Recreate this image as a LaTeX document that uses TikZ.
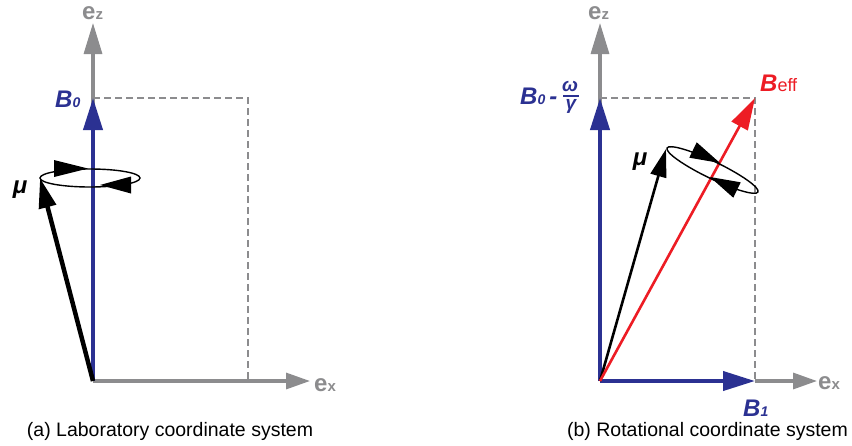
\documentclass[tikz,border=0pt]{standalone}
\usepackage{fontspec}
\setmainfont{Liberation Sans}
\usetikzlibrary{arrows.meta}
\definecolor{bblue}{RGB}{43,49,146}
\definecolor{agray}{RGB}{140,140,142}
\definecolor{rred}{RGB}{237,28,36}
\begin{document}
\begin{tikzpicture}[x=1pt,y=-1pt,
  axisz/.style={draw=agray, line width=3.2pt, -{Triangle[length=31pt,width=18pt]}},
  axisx/.style={draw=agray, line width=3.2pt, -{Triangle[length=24pt,width=16pt]}},
  bvec/.style={draw=bblue, line width=4pt, -{Triangle[length=32pt,width=19pt]}},
  muthick/.style={draw=black, line width=4.5pt, -{Triangle[length=30pt,width=17pt]}},
  muthin/.style={draw=black, line width=2.6pt, -{Triangle[length=28pt,width=16pt]}},
  rvec/.style={draw=rred, line width=2.6pt, -{Triangle[length=32pt,width=18pt]}},
  dashline/.style={draw=agray, line width=2.8pt, dash pattern=on 7pt off 4pt},
  precess/.style={draw=black, line width=1.4pt},
  lbl/.style={inner sep=0pt, font=\fontsize{24}{24}\selectfont\bfseries\itshape},
  axlbl/.style={inner sep=0pt, text=agray, font=\fontsize{24}{24}\selectfont\bfseries},
  caption/.style={inner sep=0pt, anchor=base, font=\fontsize{19.5}{20}\selectfont}
]
\useasboundingbox (0,0) rectangle (852,445);
\fill[white] (0,0) rectangle (852,445);

% ---------- panel (a) ----------
\coordinate (O1) at (93,381);
\coordinate (Z1) at (93,23);
\coordinate (X1) at (310,381);
\coordinate (B01) at (93,98);
\coordinate (C1) at (248,98);
\coordinate (C1b) at (248,381);
\coordinate (M1) at (40,178);

\draw[dashline] (B01) -- (C1) -- (C1b);
\draw[axisz] (O1) -- (Z1);
\draw[axisx] (O1) -- (X1);
\draw[bvec] (O1) -- (B01);
\draw[muthick] (O1) -- (M1);
\draw[precess] (90,178) ellipse [x radius=50pt, y radius=9pt];
\fill (88,168.5) -- (54,160) -- (54,177) -- cycle;
\fill (100,185) -- (131,176.5) -- (131,193.5) -- cycle;

\node[axlbl, anchor=base west] (ez1) at (82,19) {e{\fontsize{15}{15}\selectfont z}};
\node[axlbl, anchor=base west] (ex1) at (314,391) {e{\fontsize{15}{15}\selectfont x}};
\node[lbl, text=bblue, anchor=base west] (lB0) at (55,107) {B{\fontsize{14}{14}\selectfont 0}};
\node[lbl, text=black] (lmu1) at (20,190) {μ};
\node[caption] (capa) at (170,436) {(a) Laboratory coordinate system};

% ---------- panel (b) ----------
\coordinate (O2) at (600,381);
\coordinate (Z2) at (600,23);
\coordinate (X2) at (817,381);
\coordinate (B02) at (600,98);
\coordinate (C2) at (755,98);
\coordinate (B1) at (755,381);
\coordinate (M2) at (666,149);

\draw[dashline] (B02) -- (C2) -- (B1);
\draw[axisz] (O2) -- (Z2);
\draw[axisx] (B1) -- (X2);
\draw[bvec] (O2) -- (B02);
\draw[bvec] (O2) -- (B1);
\draw[muthin] (O2) -- (M2);
\draw[rvec] (O2) -- (C2);
\draw[precess, shift={(712.5,170)}, rotate=-25.8] (0,0) ellipse [x radius=50.5pt, y radius=8.5pt];
\fill (720,163) -- (696.7,142.3) -- (689.3,157.7) -- cycle;
\fill (710,177) -- (740.7,182.3) -- (733.3,197.7) -- cycle;

\node[axlbl, anchor=base west] (ez2) at (588,19) {e{\fontsize{15}{15}\selectfont z}};
\node[axlbl, anchor=base west] (ex2) at (818,389) {e{\fontsize{15}{15}\selectfont x}};
\node[lbl, text=bblue, anchor=base west] (lB0w) at (520,104) {B{\fontsize{14}{14}\selectfont 0}\,-};
\node[lbl, text=bblue, font=\fontsize{19}{19}\selectfont\bfseries\itshape] (lom) at (570,86) {ω};
\draw[bblue, line width=1.2pt] (563,96) -- (579,96);
\node[lbl, text=bblue, font=\fontsize{19}{19}\selectfont\bfseries\itshape] (lga) at (571,106.5) {γ};
\node[lbl, text=rred, anchor=base west] (lBeff) at (760,91) {B{\fontsize{18}{18}\selectfont\upshape\mdseries eff}};
\node[lbl, text=bblue, anchor=base west] (lB1) at (743,416) {B{\fontsize{14}{14}\selectfont 1}};
\node[lbl, text=black] (lmu2) at (640,162) {μ};
\node[caption] (capb) at (707.5,436) {(b) Rotational coordinate system};
\end{tikzpicture}
\end{document}
